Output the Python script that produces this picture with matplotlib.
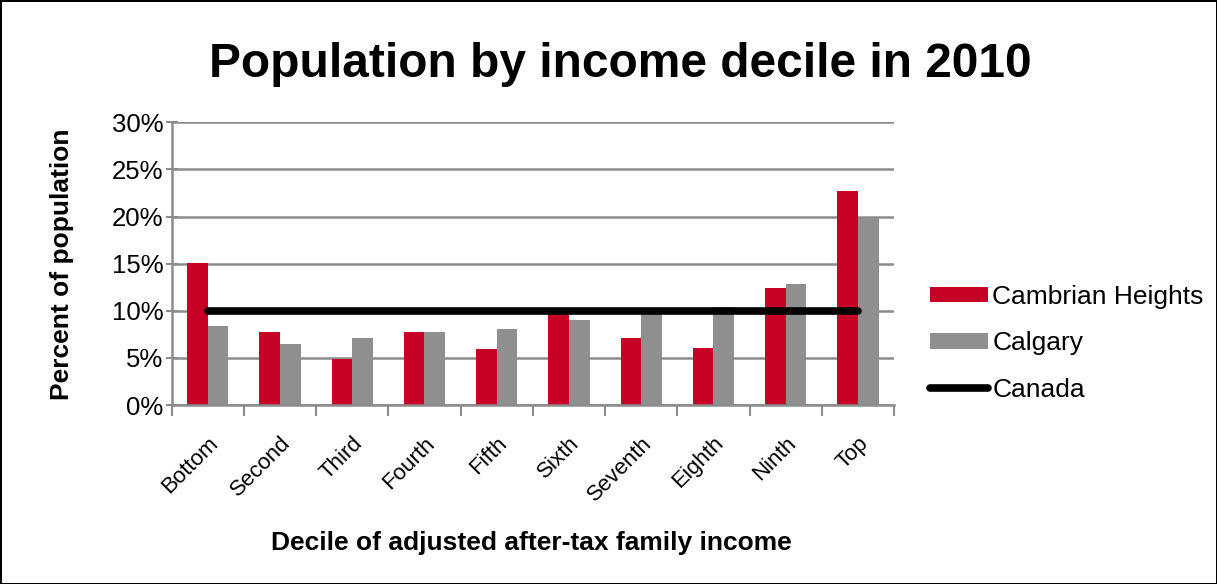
import matplotlib.pyplot as plt
import numpy as np

plt.rcParams['font.family'] = ['Liberation Sans', 'DejaVu Sans']

deciles = ["Bottom", "Second", "Third", "Fourth", "Fifth",
           "Sixth", "Seventh", "Eighth", "Ninth", "Top"]
cambrian = [15.1, 7.8, 4.9, 7.8, 5.9, 10.0, 7.1, 6.1, 12.4, 22.7]
calgary = [8.4, 6.5, 7.1, 7.8, 8.1, 9.0, 10.0, 10.4, 12.8, 19.9]
canada = [10, 10, 10, 10, 10, 10, 10, 10, 10, 10]

red = "#C70025"
grey = "#8F8F8F"

fig = plt.figure(figsize=(12.17, 5.84), dpi=100, edgecolor="black", linewidth=2)
ax = fig.add_axes([0.141, 0.3065, 0.5936, 0.484])

x = np.arange(len(deciles))
w = 0.286
b1 = ax.bar(x - w / 2, cambrian, w, color=red, label="Cambrian Heights", zorder=2)
b2 = ax.bar(x + w / 2, calgary, w, color=grey, label="Calgary", zorder=2)
l1, = ax.plot(x, canada, color="black", lw=5.5, solid_capstyle="round", label="Canada", zorder=3)

ax.set_xlim(-0.5, len(deciles) - 0.5)
ax.set_ylim(0, 30)
ax.set_yticks(range(0, 31, 5))
ax.set_yticklabels([f"{v}%" for v in range(0, 31, 5)], fontsize=18.5)
ax.yaxis.grid(True, color="#8C8C8C", lw=1.8, zorder=0)
ax.set_axisbelow(True)

ax.set_xticks(x)
ax.set_xticklabels(deciles, rotation=45, ha="right", va="top",
                   rotation_mode="anchor", fontsize=16)
ax.tick_params(axis="x", length=0, pad=20)
ax.set_xticks(np.arange(-0.5, len(deciles)), minor=True)
ax.tick_params(axis="x", which="minor", length=8, width=1.5, color="#8C8C8C", direction="out")
ax.tick_params(axis="y", length=8, width=1.5, color="#8C8C8C", direction="inout", pad=2)

for s in ["top", "right"]:
    ax.spines[s].set_visible(False)
for s in ["left", "bottom"]:
    ax.spines[s].set_color("#8C8C8C")
    ax.spines[s].set_linewidth(1.8)

fig.text(0.051, 0.548, "Percent of population", rotation=90,
         fontsize=19, fontweight="bold", ha="center", va="center")
fig.text(0.437, 0.07, "Decile of adjusted after-tax family income",
         fontsize=19, fontweight="bold", ha="center", va="center")
fig.text(0.51, 0.889, "Population by income decile in 2010",
         fontsize=34.5, fontweight="bold", ha="center", va="center")

ax.legend(handles=[b1, b2, l1], loc="center left", bbox_to_anchor=(1.05, 0.218),
          frameon=False, fontsize=19, handlelength=2.2, handleheight=0.5,
          handletextpad=0.15, labelspacing=0.85, borderaxespad=0, borderpad=0)

fig.savefig("out.png", dpi=100, edgecolor=fig.get_edgecolor())
